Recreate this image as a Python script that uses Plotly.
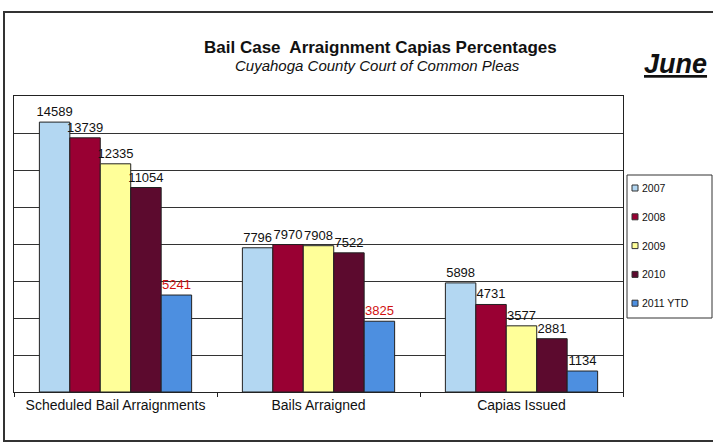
import plotly.graph_objects as go

categories = ["Scheduled Bail Arraignments", "Bails Arraigned", "Capias Issued"]
years = ["2007", "2008", "2009", "2010", "2011 YTD"]
v2007 = [14589, 7796, 5898]
v2008 = [13739, 7970, 4731]
v2009 = [12335, 7908, 3577]
v2010 = [11054, 7522, 2881]
v2011 = [5241, 3825, 1134]

series = [v2007, v2008, v2009, v2010, v2011]
colors = ["#B3D7F2", "#990033", "#FFFF99", "#5C0A2E", "#4D8FE0"]
label_colors = [
    ["#111111"] * 3,
    ["#111111"] * 3,
    ["#111111"] * 3,
    ["#111111"] * 3,
    ["#D01010", "#D01010", "#111111"],
]

# plot area in pixels
W, H = 713, 444
L, R, T, B = 14, 623, 96, 392


def px_x(x):
    return (x - L) / (R - L)


def px_y(y):
    return (B - y) / (B - T)


fig = go.Figure()
for name, vals, col, lc in zip(years, series, colors, label_colors):
    fig.add_trace(go.Bar(
        x=categories,
        y=vals,
        name=name,
        showlegend=False,
        marker=dict(color=col, line=dict(color="#222222", width=1)),
        text=[str(v) for v in vals],
        textposition="outside",
        constraintext="none",
        cliponaxis=False,
        textfont=dict(family="Liberation Sans, Arial", size=13, color=lc),
    ))

# outer frame + legend box
shapes = [
    dict(type="rect", xref="paper", yref="paper",
         x0=px_x(4), x1=px_x(730), y0=px_y(441), y1=px_y(12),
         line=dict(color="#333333", width=2)),
    dict(type="rect", xref="paper", yref="paper",
         x0=px_x(627), x1=px_x(712), y0=px_y(318), y1=px_y(175),
         line=dict(color="#333333", width=1), fillcolor="white"),
]
annotations = [
    dict(text="<b>Bail Case  Arraignment Capias Percentages</b>",
         x=px_x(380), y=px_y(37), xref="paper", yref="paper",
         showarrow=False, borderpad=0, font=dict(size=17, color="#111111")),
    dict(text="<i>Cuyahoga County Court of Common Pleas</i>",
         x=px_x(377), y=px_y(56), xref="paper", yref="paper",
         showarrow=False, borderpad=0, font=dict(size=15, color="#111111")),
    dict(text="<b><i><u>June</u></i></b>",
         x=px_x(643), y=px_y(48), xref="paper", yref="paper",
         xanchor="left", showarrow=False, borderpad=0,
         font=dict(size=27, color="#111111")),
]

# hand-built legend (small swatches like the original)
for i, (name, col) in enumerate(zip(years, colors)):
    yc = 188 + i * 28.8
    shapes.append(dict(
        type="rect", xref="paper", yref="paper",
        x0=px_x(632), x1=px_x(638), y0=px_y(yc + 3), y1=px_y(yc - 3),
        line=dict(color="#333333", width=1), fillcolor=col))
    annotations.append(dict(
        text=name, x=px_x(640), y=px_y(yc), xref="paper", yref="paper",
        xanchor="left", yanchor="middle", showarrow=False,
        font=dict(size=10.5, color="#111111")))

fig.update_layout(
    width=W, height=H,
    barmode="group",
    bargap=0.25,
    bargroupgap=0,
    paper_bgcolor="white",
    plot_bgcolor="white",
    margin=dict(l=L, r=W - R, t=T, b=H - B, autoexpand=False),
    font=dict(family="Liberation Sans, Arial", color="#111111"),
    xaxis=dict(
        showline=True, linecolor="#222222", linewidth=1, mirror=True,
        ticks="outside", tickson="boundaries", ticklen=4, tickcolor="#222222",
        tickfont=dict(size=14, color="#111111"),
    ),
    yaxis=dict(
        range=[0, 16000], dtick=2000,
        showgrid=True, gridcolor="#333333", gridwidth=1,
        showline=True, linecolor="#222222", linewidth=1, mirror=True,
        showticklabels=False, zeroline=False,
    ),
    showlegend=False,
    shapes=shapes,
    annotations=annotations,
)

# drop the page's default body margin so the figure sits at the window corner
fig.write_html("out.html", config={"displayModeBar": False},
               post_script="document.body.style.margin='0';")
